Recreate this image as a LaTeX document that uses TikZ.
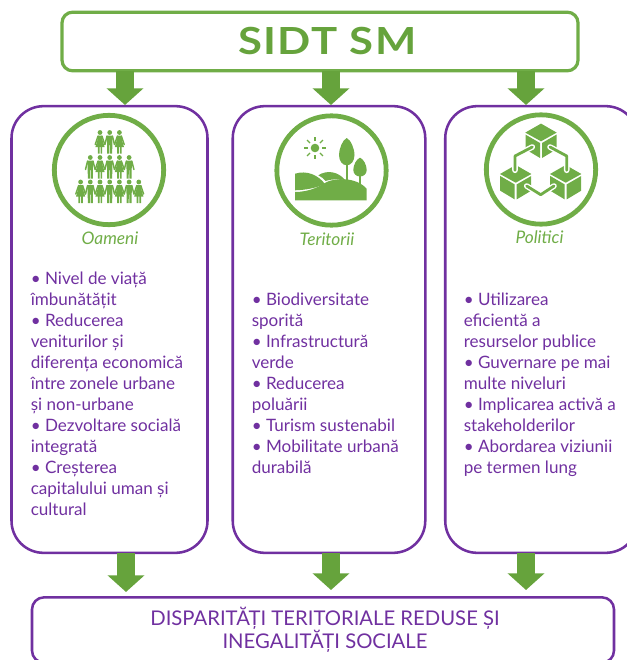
\documentclass[tikz,border=0pt]{standalone}
\usepackage{fontspec}
\setmainfont{Lato}
\newfontfamily\titlefont[FakeStretch=1.17,LetterSpace=4]{Lato Bold}
\usepackage{xcolor}
\usetikzlibrary{arrows.meta}
\definecolor{sgreen}{HTML}{66A33C}
\definecolor{igreen}{HTML}{70AD47}
\definecolor{spurple}{HTML}{7030A0}
\tikzset{greenbox/.style={draw=igreen,line width=2.4pt,rounded corners=8pt,inner sep=0pt,outer sep=0pt,
           minimum width=387pt,minimum height=44pt,text=sgreen,font=\titlefont\fontsize{28}{30}\selectfont},
         columnbox/.style={draw=spurple,line width=1.9pt,rounded corners=24pt,inner sep=0pt,outer sep=0pt,
           minimum height=335pt},
         endbox/.style={draw=spurple,line width=1.9pt,rounded corners=9pt,inner sep=0pt,outer sep=0pt,
           minimum width=436.5pt,minimum height=49pt,align=center,text=spurple,
           font=\fontsize{15.2}{17.2}\selectfont},
         ring/.style={circle,draw=igreen,line width=3.6pt,inner sep=0pt,minimum size=82pt},
         heading/.style={text=igreen,font=\itshape\fontsize{13}{15}\selectfont,inner sep=0pt},
         bulletlist/.style={anchor=north west,align=left,inner sep=0pt,text=spurple,
           font=\fontsize{12.8}{15.7}\selectfont},
         bigarrow/.style={color=sgreen,line width=14pt,
           -{Triangle[length=12.5pt,width=27pt,fill=sgreen]}},
         man/.pic={
           \fill (0,0) circle (2.4);
           \fill (-3,3.2)--(3,3.2)--(2.6,11.5)--(2.5,21)--(.4,21)--(.3,12.5)--(-.3,12.5)--(-.4,21)--(-2.5,21)--(-2.6,11.5)--cycle;
           \draw[line width=1.1pt,line cap=round] (-2.7,3.6)--(-4.8,12) (2.7,3.6)--(4.8,12);},
         woman/.pic={
           \fill (0,0) circle (2.4);
           \fill (-2.4,3.2)--(2.4,3.2)--(2.4,7)--(4.6,14.5)--(-4.6,14.5)--(-2.4,7)--cycle;
           \fill (-2.2,14)rectangle(-.5,21) (.5,14)rectangle(2.2,21);
           \draw[line width=1.1pt,line cap=round] (-2,3.6)--(-4.8,12) (2,3.6)--(4.8,12);},
         cube/.pic={
           \fill (0,-17.7)--(15.7,-8.7)--(0,0)--(-15.7,-8.7)--cycle;
           \fill (-15.5,-6.7)--(-1,1.7)--(-1,16.7)--(-15.5,8)--cycle;
           \fill (15.5,-6.7)--(1,1.7)--(1,16.7)--(15.5,8)--cycle;}}

\begin{document}
\begin{tikzpicture}[x=.75pt,y=-.75pt]
\useasboundingbox (0,0) rectangle (627,660);
\clip (0,0) rectangle (627,660);
% boxes
\node[greenbox] (sidt) at (320,41.5) {\hspace*{11pt}SIDT SM};
\node[columnbox,minimum width=147pt] (oameni) at (109.5,329.5) {};
\node[columnbox,minimum width=144.4pt] (teritorii) at (329,329.5) {};
\node[columnbox,minimum width=144.4pt] (politici) at (541.5,329.5) {};
\node[endbox] (rezultat) at (323,630) {\hspace*{3pt}DISPARITĂȚI TERITORIALE REDUSE ȘI\\\hspace*{3pt}INEGALITĂȚI SOCIALE};
% arrows
\coordinate (topA) at (125,105);
\coordinate (topB) at (331,105);
\coordinate (topC) at (526,105);
\coordinate (lowA) at (126,592);
\coordinate (lowB) at (331,590);
\coordinate (lowC) at (526,590);
\path[bigarrow]
(sidt.south -| topA) edge (topA)
(sidt.south -| topB) edge (topB)
(sidt.south -| topC) edge (topC)
(oameni.south -| lowA) edge (lowA)
(teritorii.south -| lowB) edge (lowB)
(politici.south -| lowC) edge (lowC);
% icons
\node[ring] (ringO) at (109,170) {};
\node[ring] (ringT) at (331.5,170.5) {};
\node[ring] (ringP) at (541,169.5) {};
\begin{scope}[fill=igreen,draw=igreen]
\foreach \x/\k in {100/woman,109.7/man,119.4/woman}
  \pic at (\x,132.5) {\k};
\foreach \x/\k in {90.3/man,100/woman,109.7/man,119.4/woman,129.1/man}
  \pic at (\x,157.5) {\k};
\foreach \x/\k in {80.6/woman,90.3/man,100/woman,109.7/man,119.4/woman,129.1/man,138.8/woman}
  \pic at (\x,182) {\k};
% landscape
\fill (315,148) circle (4.3);
\foreach \a in {0,45,...,315}
  \draw[line width=.9pt] (315,148)++(\a:7) -- ++(\a:4.2);
\fill (295,192) .. controls (310,192) and (320,186) .. (326.7,182)
  .. controls (334,178.5) and (355,176) .. (366.7,188.7) -- (366.7,200.3) -- (295,200.3) -- cycle;
\fill (295,173.7) .. controls (307,170) and (318,175) .. (325,184)
  .. controls (316,188) and (306,190) .. (295,190.3) -- cycle;
\fill (318.3,175.3) .. controls (326,170) and (338,171) .. (345,180)
  .. controls (338,179) and (331,179) .. (325.5,181) .. controls (323.5,178.5) and (321,176.5) .. (318.3,175.3) -- cycle;
\fill (346.7,138) .. controls (351,140) and (354.5,149) .. (354.5,155)
  .. controls (354.5,161) and (351,165.3) .. (346.7,165.3)
  .. controls (342.4,165.3) and (339,161) .. (339,155)
  .. controls (339,149) and (342.4,140) .. (346.7,138) -- cycle;
\draw[line width=1.6pt] (346.7,164) -- (346.7,181);
\fill (360,157.7) .. controls (363.5,159) and (366.7,165) .. (366.7,170)
  .. controls (366.7,174) and (363.5,176.5) .. (360,176.5)
  .. controls (356.5,176.5) and (353.3,174) .. (353.3,170)
  .. controls (353.3,165) and (356.5,159) .. (360,157.7) -- cycle;
\draw[line width=1.4pt] (360,175) -- (360,184);
% cubes
\pic at (541,141.3) {cube};
\pic at (515.7,182.7) {cube};
\pic at (565.7,182.7) {cube};
\foreach \w/\c in {4.2pt/white,2.1pt/igreen}
  \draw[draw=\c,line width=\w,line cap=round,line join=round]
  (532.3,147) -- (515,156) -- (515,170.3)
  (550,147) -- (566.7,156) -- (566.7,170.3)
  (526.7,186) -- (540.7,194.7) -- (554,186);
\end{scope}
% labels
\node[heading] (labelO) at (110,238.5) {Oameni};
\node[heading] (labelT) at (327,239.5) {Teritorii};
\node[heading] (labelP) at (539.5,237.5) {Politici};
% lists
\node[bulletlist] (listO) at (30.5,272) {• Nivel de viață\\îmbunătățit\\• Reducerea\\veniturilor și\\diferența economică\\între zonele urbane\\și non-urbane\\• Dezvoltare socială\\integrată\\• Creșterea\\capitalului uman și\\cultural};
\node[bulletlist] (listT) at (251.5,293) {• Biodiversitate\\sporită\\• Infrastructură\\verde\\• Reducerea\\poluării\\• Turism sustenabil\\• Mobilitate urbană\\durabilă};
\node[bulletlist] (listP) at (463.5,293) {• Utilizarea\\eficientă a\\resurselor publice\\• Guvernare pe mai\\multe niveluri\\• Implicarea activă a\\stakeholderilor\\• Abordarea viziunii\\pe termen lung};
\end{tikzpicture}
\end{document}
